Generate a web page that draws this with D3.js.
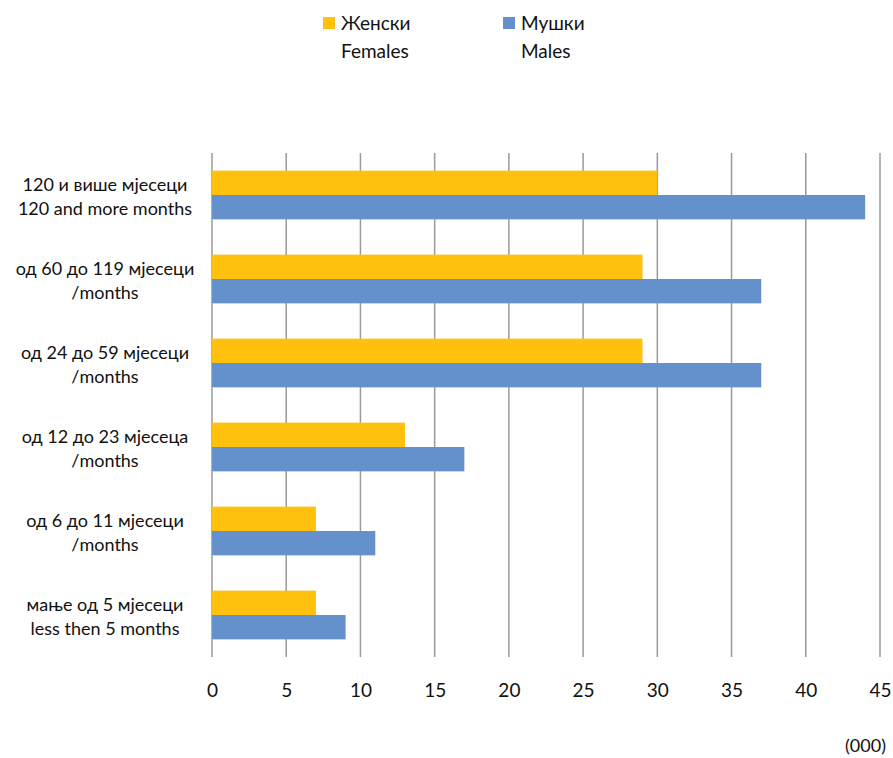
<!DOCTYPE html>
<html><head><meta charset="utf-8">
<script src="https://cdn.jsdelivr.net/npm/d3@7"></script>
<style>body{margin:0;background:#fff}text{font-family:Lato,"Open Sans",sans-serif;fill:#111}</style>
</head><body><svg id="c" width="893" height="758"></svg>
<script>
const categories = [
  ["120 и више мјесеци", "120 and more months"],
  ["од 60 до 119 мјесеци", "/months"],
  ["од 24 до 59 мјесеци", "/months"],
  ["од 12 до 23 мјесеца", "/months"],
  ["од 6 до 11 мјесеци", "/months"],
  ["мање од 5 мјесеци", "less then 5 months"]
];
const females = [30, 29, 29, 13, 7, 7];
const males = [44, 37, 37, 17, 11, 9];
const xTicks = [0, 5, 10, 15, 20, 25, 30, 35, 40, 45];
const seriesNames = [["Женски", "Females"], ["Мушки", "Males"]];
const colors = ["#FFC00E", "#6491CB"];

(function () {
const svg = d3.select("#c");
const pLeft = 212, pRight = 880, pTop = 153, pBottom = 657;
const x = d3.scaleLinear().domain([0, 45]).range([pLeft, pRight]);
const y = d3.scaleBand().domain(d3.range(categories.length)).range([pTop, pBottom]).paddingInner(0.42).paddingOuter(0.21);
const sub = d3.scaleBand().domain([0, 1]).range([0, y.bandwidth()]);

svg.append("g").selectAll("line").data(xTicks).join("line")
  .attr("x1", d => x(d)).attr("x2", d => x(d)).attr("y1", pTop).attr("y2", pBottom)
  .attr("stroke", "#9a9a9a").attr("stroke-width", 1.5);

const series = [females, males];
series.forEach((vals, si) => {
  svg.append("g").selectAll("rect").data(vals).join("rect")
    .attr("x", x(0)).attr("y", (d, i) => y(i) + sub(si))
    .attr("width", d => x(d) - x(0)).attr("height", sub.bandwidth())
    .attr("fill", colors[si]);
});

const xa = svg.append("g").attr("transform", `translate(0,${pBottom})`)
  .call(d3.axisBottom(x).tickValues(xTicks).tickSize(0).tickPadding(27));
xa.select(".domain").remove();
xa.selectAll("text").attr("font-size", 19).attr("font-family", "Lato").attr("fill", "#111");

categories.forEach((c, i) => {
  const cy = y(i) + y.bandwidth() / 2;
  const t = svg.append("text").attr("text-anchor", "middle").attr("font-size", 18);
  t.append("tspan").attr("x", 105).attr("y", cy - 4).text(c[0]);
  t.append("tspan").attr("x", 105).attr("y", cy + 20).text(c[1]);
});

const lx = [323, 503];
seriesNames.forEach((n, i) => {
  svg.append("rect").attr("x", lx[i]).attr("y", 17).attr("width", 12).attr("height", 12).attr("fill", colors[i]);
  svg.append("text").attr("x", lx[i] + 18).attr("y", 30).attr("font-size", 19).text(n[0]);
  svg.append("text").attr("x", lx[i] + 18).attr("y", 58).attr("font-size", 19).text(n[1]);
});

svg.append("text").attr("x", 886).attr("y", 752).attr("text-anchor", "end").attr("font-size", 18).text("(000)");
})();
</script></body></html>
